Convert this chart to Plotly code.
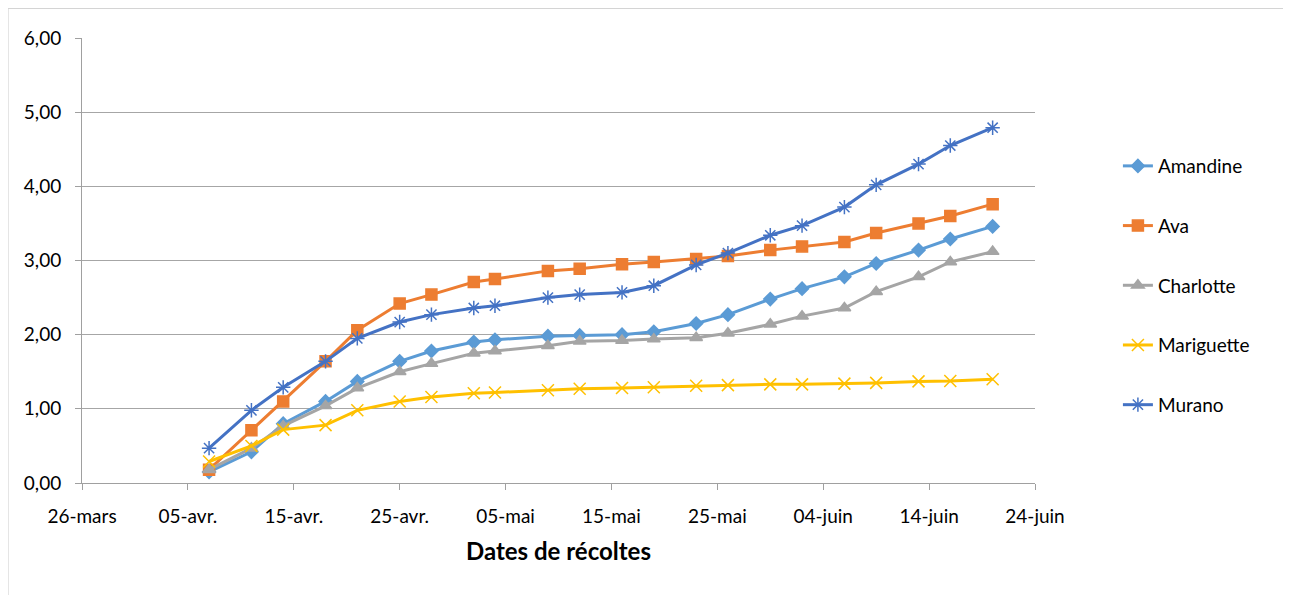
import plotly.graph_objects as go

dates = ["2015-04-07", "2015-04-11", "2015-04-14", "2015-04-18", "2015-04-21", "2015-04-25",
         "2015-04-28", "2015-05-02", "2015-05-04", "2015-05-09", "2015-05-12", "2015-05-16",
         "2015-05-19", "2015-05-23", "2015-05-26", "2015-05-30", "2015-06-02", "2015-06-06",
         "2015-06-09", "2015-06-13", "2015-06-16", "2015-06-20"]

amandine = [0.15, 0.42, 0.80, 1.10, 1.37, 1.64, 1.78, 1.90, 1.93, 1.98, 1.99, 2.00,
            2.04, 2.15, 2.27, 2.48, 2.62, 2.78, 2.96, 3.14, 3.29, 3.46]
ava = [0.18, 0.71, 1.10, 1.64, 2.06, 2.42, 2.54, 2.71, 2.75, 2.86, 2.89, 2.95,
       2.98, 3.02, 3.06, 3.14, 3.19, 3.25, 3.37, 3.50, 3.60, 3.76]
charlotte = [0.18, 0.47, 0.77, 1.04, 1.28, 1.50, 1.61, 1.75, 1.78, 1.85, 1.91, 1.92,
             1.94, 1.96, 2.02, 2.14, 2.25, 2.36, 2.58, 2.78, 2.98, 3.12]
mariguette = [0.29, 0.50, 0.72, 0.78, 0.98, 1.10, 1.16, 1.21, 1.22, 1.25, 1.27, 1.28,
              1.29, 1.31, 1.32, 1.33, 1.33, 1.34, 1.35, 1.37, 1.375, 1.40]
murano = [0.47, 0.98, 1.29, 1.64, 1.95, 2.17, 2.27, 2.36, 2.39, 2.50, 2.54, 2.57,
          2.66, 2.94, 3.10, 3.34, 3.47, 3.72, 4.02, 4.30, 4.55, 4.79]

x_tick_vals = ["2015-03-26", "2015-04-05", "2015-04-15", "2015-04-25", "2015-05-05",
               "2015-05-15", "2015-05-25", "2015-06-04", "2015-06-14", "2015-06-24"]
x_tick_text = ["26-mars", "05-avr.", "15-avr.", "25-avr.", "05-mai", "15-mai",
               "25-mai", "04-juin", "14-juin", "24-juin"]
y_tick_vals = [0, 1, 2, 3, 4, 5, 6]

series = [
    ("Amandine", amandine, "#5B9BD5", "diamond", 10),
    ("Ava", ava, "#ED7D31", "square", 11),
    ("Charlotte", charlotte, "#A5A5A5", "triangle-up", 11),
    ("Mariguette", mariguette, "#FFC000", "x-thin-open", 12),
    ("Murano", murano, "#4472C4", "asterisk-open", 12),
]

fig = go.Figure()
for name, vals, color, sym, size in series:
    fig.add_trace(go.Scatter(
        x=dates, y=vals, name=name, mode="lines+markers", legendgroup=name,
        line=dict(color=color, width=3),
        marker=dict(symbol=sym, size=size, color=color,
                    line=dict(color=color, width=1.5)),
    ))

font_family = "Lato, 'Open Sans', sans-serif"
fig.update_layout(
    width=1283, height=587,
    margin=dict(l=74, r=256, t=30, b=112),
    paper_bgcolor="white", plot_bgcolor="white",
    separators=", ",
    font=dict(family=font_family, size=19, color="#000000"),
    showlegend=True,
    legend=dict(x=1.087, y=0.755, xanchor="left", yanchor="top",
                tracegroupgap=32, font=dict(size=19),
                bgcolor="rgba(0,0,0,0)"),
    xaxis=dict(
        type="date",
        range=["2015-03-26", "2015-06-24"],
        tickmode="array", tickvals=x_tick_vals, ticktext=x_tick_text,
        showgrid=False, showline=True, linecolor="#A0A0A0", linewidth=1,
        ticks="outside", ticklen=6, tickcolor="#A0A0A0",
        ticklabelstandoff=10,
        tickfont=dict(size=19), zeroline=False,
        title=dict(text="<b>Dates de récoltes</b>", font=dict(size=24), standoff=17),
    ),
    yaxis=dict(
        range=[0, 6], tickmode="array", tickvals=y_tick_vals, tickformat=".2f",
        showgrid=True, gridcolor="#A6A6A6", gridwidth=1,
        showline=True, linecolor="#A0A0A0", linewidth=1,
        ticks="outside", ticklen=6, tickcolor="#A0A0A0",
        ticklabelstandoff=10,
        tickfont=dict(size=19), zeroline=False,
    ),
    shapes=[dict(type="rect", xref="paper", yref="paper",
                 x0=-0.0776, x1=1.2665, y0=-0.3, y1=1.0665,
                 line=dict(color="#D0D0D0", width=1), fillcolor="rgba(0,0,0,0)",
                 layer="below")],
)

fig.write_html("out.html")
